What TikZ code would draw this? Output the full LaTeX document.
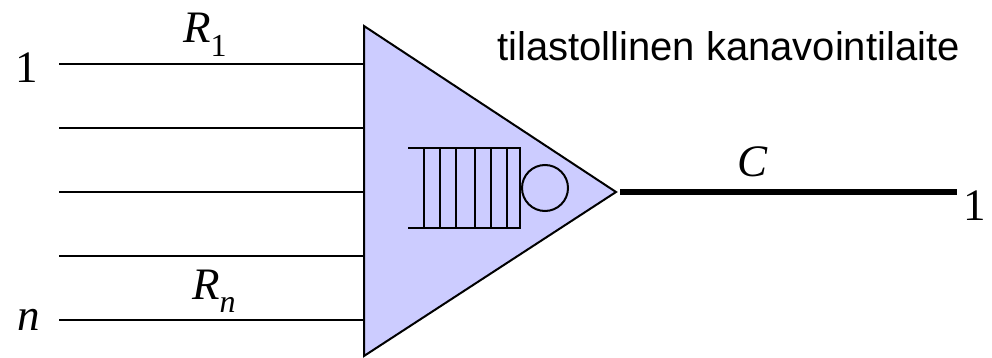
\documentclass[tikz,border=0pt]{standalone}
\usepackage{fontspec}
\setmainfont{Liberation Serif}
\setsansfont{Liberation Sans}
\definecolor{tri}{RGB}{204,204,255}
\tikzset{
  wire/.style={line width=2pt,black},
  thick wire/.style={line width=5.5pt,black},
  qline/.style={line width=2pt,black},
  lab/.style={inner sep=0pt,anchor=base west,font=\fontsize{45}{50}\selectfont},
}
\newcommand{\subtxt}[2]{\raisebox{#1}{\fontsize{32}{36}\selectfont #2}}
\begin{document}
\begin{tikzpicture}[x=1pt,y=-1pt]
\useasboundingbox (0,0) rectangle (992,358);
\coordinate (a) at (364,26);
\coordinate (b) at (364,356);
\coordinate (c) at (616,192);
\draw[line width=2pt,fill=tri] (a) -- (c) -- (b) -- cycle;
\foreach \y/\n in {64/i1,128/i2,192/i3,256/i4,320/i5}{
  \coordinate (\n) at (59,\y);
  \coordinate (\n e) at (363,\y);
  \draw[wire] (\n) -- (\n e);
}
\coordinate (o1) at (620,192);
\coordinate (o2) at (957,192);
\draw[thick wire] (o1) -- (o2);
\draw[qline] (408,148) -- (521,148);
\draw[qline] (408,228) -- (521,228);
\foreach \x in {424,440,456,475,491,507,520}{
  \draw[qline] (\x,148) -- (\x,228);
}
\node[draw,circle,line width=2pt,minimum size=46pt,inner sep=0pt] (srv) at (545,188) {};
\node[lab] (r1) at (183,43) {\itshape R\subtxt{-14pt}{\upshape 1}};
\node[lab] (one) at (15,83) {1};
\node[lab] (rn) at (192,299) {\itshape R\subtxt{-13pt}{n}};
\node[lab] (n) at (17,330) {\itshape n};
\node[lab] (cc) at (737,177) {\itshape C};
\node[lab] (oneb) at (963,220) {1};
\node[inner sep=0pt,anchor=base west,font=\sffamily\fontsize{40}{44}\selectfont] (t) at (497,61) {tilastollinen kanavointilaite};
\end{tikzpicture}
\end{document}
